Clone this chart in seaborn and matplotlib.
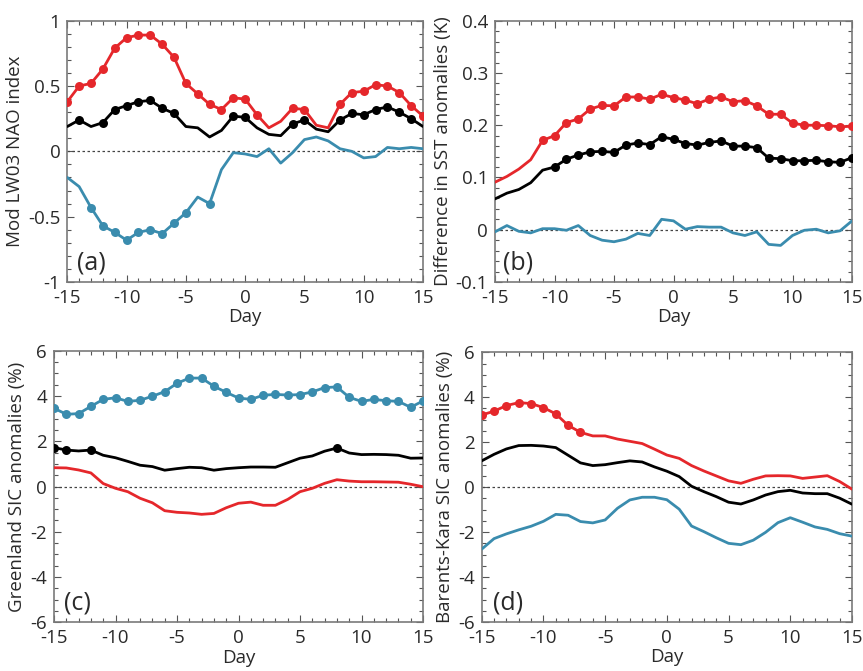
import numpy as np
import pandas as pd
import seaborn as sns
import matplotlib.pyplot as plt
from matplotlib.ticker import MultipleLocator, FuncFormatter

days = list(range(-15, 16))

# (a) Mod LW03 NAO index
nao_red = [0.38, 0.50, 0.52, 0.63, 0.79, 0.87, 0.89, 0.89, 0.82, 0.72, 0.52, 0.44, 0.36, 0.32, 0.41, 0.40,
           0.28, 0.18, 0.23, 0.33, 0.32, 0.20, 0.18, 0.36, 0.45, 0.46, 0.51, 0.50, 0.45, 0.35, 0.27]
nao_black = [0.19, 0.24, 0.19, 0.22, 0.32, 0.35, 0.38, 0.39, 0.33, 0.29, 0.19, 0.18, 0.11, 0.16, 0.27, 0.26,
             0.18, 0.13, 0.12, 0.21, 0.24, 0.17, 0.15, 0.24, 0.29, 0.28, 0.32, 0.34, 0.30, 0.25, 0.19]
nao_blue = [-0.20, -0.27, -0.43, -0.57, -0.62, -0.68, -0.62, -0.60, -0.63, -0.55, -0.47, -0.35, -0.40, -0.14,
            -0.01, -0.02, -0.04, 0.02, -0.09, -0.01, 0.09, 0.11, 0.08, 0.02, 0.00, -0.05, -0.04, 0.03, 0.02, 0.03, 0.02]
nao_red_sig = [d for d in days if d not in (2, 3, 6, 7)]
nao_black_sig = [-14, -12, -11, -10, -9, -8, -7, -6, -1, 0, 4, 5, 8, 9, 10, 11, 12, 13, 14]
nao_blue_sig = [-13, -12, -11, -10, -9, -8, -7, -6, -5, -3]

# (b) Difference in SST anomalies (K)
sst_red = [0.091, 0.102, 0.116, 0.134, 0.171, 0.180, 0.205, 0.212, 0.231, 0.238, 0.237, 0.254, 0.254, 0.250,
           0.259, 0.253, 0.248, 0.241, 0.250, 0.254, 0.245, 0.247, 0.237, 0.221, 0.221, 0.204, 0.200, 0.200,
           0.199, 0.197, 0.198]
sst_black = [0.059, 0.070, 0.077, 0.090, 0.114, 0.120, 0.135, 0.143, 0.149, 0.150, 0.148, 0.162, 0.166, 0.163,
             0.178, 0.173, 0.165, 0.162, 0.167, 0.170, 0.160, 0.160, 0.157, 0.137, 0.136, 0.132, 0.132, 0.133,
             0.130, 0.129, 0.138]
sst_blue = [-0.004, 0.008, -0.003, -0.006, 0.002, 0.002, -0.001, 0.008, -0.011, -0.020, -0.023, -0.018, -0.007,
            -0.011, 0.020, 0.017, 0.001, 0.006, 0.005, 0.005, -0.006, -0.011, -0.004, -0.028, -0.030, -0.011,
            -0.001, 0.001, -0.006, -0.002, 0.017]
sst_red_sig = list(range(-11, 16))
sst_black_sig = list(range(-10, 16))
sst_blue_sig = []

# (c) Greenland SIC anomalies (%)
gl_red = [0.83, 0.82, 0.73, 0.60, 0.13, -0.08, -0.23, -0.52, -0.72, -1.07, -1.14, -1.17, -1.23, -1.19, -0.94,
          -0.74, -0.69, -0.83, -0.83, -0.57, -0.23, -0.08, 0.14, 0.30, 0.24, 0.21, 0.21, 0.20, 0.19, 0.10, -0.01]
gl_black = [1.72, 1.61, 1.57, 1.61, 1.38, 1.27, 1.11, 0.94, 0.88, 0.72, 0.79, 0.85, 0.83, 0.72, 0.79, 0.83,
            0.86, 0.86, 0.85, 1.05, 1.25, 1.35, 1.56, 1.70, 1.48, 1.41, 1.42, 1.41, 1.38, 1.25, 1.26]
gl_blue = [3.46, 3.19, 3.22, 3.54, 3.85, 3.92, 3.76, 3.81, 3.99, 4.19, 4.56, 4.79, 4.79, 4.43, 4.16, 3.91,
           3.85, 4.03, 4.07, 4.04, 4.06, 4.18, 4.37, 4.40, 3.94, 3.76, 3.85, 3.79, 3.76, 3.50, 3.78]
gl_red_sig = []
gl_black_sig = [-15, -14, -12, 8]
gl_blue_sig = list(days)

# (d) Barents-Kara SIC anomalies (%)
bk_red = [3.21, 3.38, 3.63, 3.76, 3.72, 3.54, 3.26, 2.75, 2.44, 2.28, 2.28, 2.14, 2.04, 1.94, 1.69, 1.43,
          1.28, 0.96, 0.72, 0.50, 0.28, 0.17, 0.35, 0.50, 0.51, 0.50, 0.39, 0.45, 0.51, 0.25, -0.09]
bk_black = [1.17, 1.46, 1.70, 1.85, 1.86, 1.83, 1.76, 1.42, 1.08, 0.96, 1.00, 1.09, 1.17, 1.12, 0.90, 0.71,
            0.47, 0.04, -0.20, -0.42, -0.67, -0.75, -0.57, -0.35, -0.20, -0.14, -0.26, -0.29, -0.29, -0.49, -0.76]
bk_blue = [-2.76, -2.29, -2.08, -1.90, -1.74, -1.52, -1.21, -1.25, -1.53, -1.59, -1.46, -0.94, -0.57, -0.45,
           -0.45, -0.56, -0.98, -1.73, -1.98, -2.25, -2.50, -2.56, -2.36, -2.01, -1.58, -1.36, -1.56, -1.77,
           -1.88, -2.07, -2.18]
bk_red_sig = list(range(-15, -6))
bk_black_sig = []
bk_blue_sig = []

RED = "#e5272b"
BLACK = "#000000"
BLUE = "#3a8cae"
TXT = "#2a2a2a"

sns.set_style("ticks")
plt.rcParams['font.family'] = ['Open Sans', 'DejaVu Sans']
plt.rcParams['axes.unicode_minus'] = False

fig = plt.figure(figsize=(8.63, 6.71), dpi=100)

W, H = 863.0, 671.0
def box(l, r, t, b):
    return [l / W, 1 - b / H, (r - l) / W, (b - t) / H]

panels = [
    dict(pos=box(67.3, 423, 20.7, 282), series=[(nao_red, nao_red_sig, RED), (nao_black, nao_black_sig, BLACK),
                                                 (nao_blue, nao_blue_sig, BLUE)],
         ylim=(-1, 1), major=0.5, minor=0.1, ylabel="Mod LW03 NAO index", tag="(a)", tx=0.028),
    dict(pos=box(495, 852, 20.7, 282), series=[(sst_red, sst_red_sig, RED), (sst_black, sst_black_sig, BLACK),
                                                (sst_blue, sst_blue_sig, BLUE)],
         ylim=(-0.1, 0.4), major=0.1, minor=0.02, ylabel="Difference in SST anomalies (K)", tag="(b)", tx=0.022),
    dict(pos=box(54, 423, 350.7, 622.3), series=[(gl_red, gl_red_sig, RED), (gl_black, gl_black_sig, BLACK),
                                                  (gl_blue, gl_blue_sig, BLUE)],
         ylim=(-6, 6), major=2, minor=0.5, ylabel="Greenland SIC anomalies (%)", tag="(c)", tx=0.027),
    dict(pos=box(481.7, 852, 352.3, 622), series=[(bk_red, bk_red_sig, RED), (bk_black, bk_black_sig, BLACK),
                                                   (bk_blue, bk_blue_sig, BLUE)],
         ylim=(-6, 6), major=2, minor=0.5, ylabel="Barents-Kara SIC anomalies (%)", tag="(d)", tx=0.03),
]

fmt = FuncFormatter(lambda v, p: "%g" % round(v, 6))

for pn in panels:
    ax = fig.add_axes(pn["pos"])
    ax.axhline(0, color="#444444", lw=0.9, ls=(0, (2, 2)), zorder=1)
    for vals, sig, col in pn["series"]:
        df = pd.DataFrame({"Day": days, "val": vals})
        sns.lineplot(data=df, x="Day", y="val", color=col, lw=2, ax=ax, zorder=3)
        dsig = df[df["Day"].isin(sig)]
        if len(dsig):
            sns.scatterplot(data=dsig, x="Day", y="val", color=col, s=42, edgecolor=col,
                            linewidth=0, ax=ax, zorder=4)
    ax.set_xlim(-15, 15)
    ax.set_ylim(*pn["ylim"])
    ax.xaxis.set_major_locator(MultipleLocator(5))
    ax.xaxis.set_minor_locator(MultipleLocator(1))
    ax.yaxis.set_major_locator(MultipleLocator(pn["major"]))
    ax.yaxis.set_minor_locator(MultipleLocator(pn["minor"]))
    ax.yaxis.set_major_formatter(fmt)
    ax.tick_params(which="both", direction="in", top=True, right=True, color="#555555",
                   labelcolor=TXT, labelsize=13.5, pad=5)
    ax.tick_params(which="major", length=5, width=0.8)
    ax.tick_params(which="minor", length=3, width=0.8)
    for sp in ax.spines.values():
        sp.set_color("#7a7a7a")
        sp.set_linewidth(1.2)
    ax.set_xlabel("Day", fontsize=13.5, color=TXT, labelpad=1)
    ax.set_ylabel(pn["ylabel"], fontsize=13.5, color=TXT, labelpad=3)
    ax.text(pn["tx"], 0.025, pn["tag"], transform=ax.transAxes, fontsize=18, color=TXT,
            ha="left", va="bottom")

fig.savefig("out.png", dpi=100)
